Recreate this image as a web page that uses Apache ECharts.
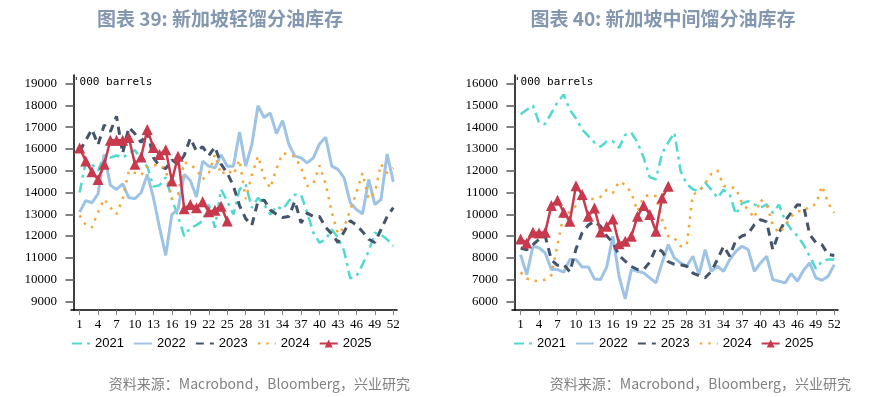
<!DOCTYPE html>
<html lang="zh">
<head>
<meta charset="UTF-8">
<title>新加坡馏分油库存</title>
<style>
  html, body { margin: 0; padding: 0; background: #fff; }
  #chart { width: 881px; height: 397px; }
</style>
</head>
<body>
<div id="chart"></div>
<script src="https://cdn.jsdelivr.net/npm/echarts@6/dist/echarts.min.js"></script>
<script>
// 周序号（1-52）与刻度
const weeks = Array.from({ length: 52 }, (_, i) => i + 1);
const weekTicks = [1, 4, 7, 10, 13, 16, 19, 22, 25, 28, 31, 34, 37, 40, 43, 46, 49, 52];
const yearNames = ['2021', '2022', '2023', '2024', '2025'];

// 图表 39：新加坡轻馏分油库存（'000 barrels）
const light2021 = [14000,15400,15300,15000,15700,15600,15700,15600,15800,15950,15500,15200,14270,14330,14700,13700,12900,12000,12380,12500,12690,13450,12380,14140,13600,12990,14140,14370,13300,13750,13450,12990,13370,13220,13600,13900,13900,13070,12150,11690,11840,12300,11920,11310,10050,10160,10700,11300,12150,12070,11840,11540];
const light2022 = [13100,13630,13530,13940,15750,14340,14140,14400,13760,13720,13990,14830,13760,12380,11110,12990,13220,14830,14550,13790,15440,15210,15130,15740,15210,15210,16780,15210,16200,17990,17450,17650,16710,17300,16230,15670,15590,15360,15590,16230,16540,15210,15060,14670,13530,13220,13020,14600,13450,13680,15770,14490];
const light2023 = [15900,16400,16900,16200,17100,16800,17500,15800,17000,16700,16300,16800,15600,15200,15100,15500,15300,15700,16500,15900,16100,15700,16100,15300,14900,14300,13400,12800,12500,13600,13650,13200,13000,12850,12900,13600,12600,13050,12900,12900,12400,12100,11700,12200,12700,12500,12200,11850,11700,12300,12900,13300];
const light2024 = [12950,12500,12400,13100,13700,13300,13000,13700,15000,14900,14800,15200,15250,15280,15050,13700,13900,15400,15280,15050,14600,14900,15740,14820,15050,14820,15500,13700,14800,15670,14700,14200,15100,15800,15750,15650,15150,14300,14400,15240,14400,13100,12100,12400,13200,14000,14900,13700,14000,15300,14900,15130];
const light2025 = [16050,15450,14950,14600,15300,16400,16400,16400,16530,15300,15630,16900,16070,15750,15970,14530,15670,13250,13450,13300,13570,13120,13190,13370,12690];

// 图表 40：新加坡中间馏分油库存（'000 barrels）
const mid2021 = [14600,14800,15000,14200,14150,14650,15150,15500,14800,14400,13900,13600,13300,13100,13350,13350,13050,13650,13750,13300,12600,11700,11600,12800,13300,13750,12000,11400,11150,11050,11450,11130,10750,11130,10900,10000,10500,10600,10450,10300,10450,10060,10440,9700,9300,9000,8600,8070,7500,7840,7920,7920];
const mid2022 = [8146,7228,8530,8453,8223,7457,7457,7335,7917,7917,7580,7580,7029,6998,7580,8988,7151,6110,7457,7380,7304,7074,6845,7764,8606,7993,7764,7610,8070,7228,8376,7380,7610,7380,7917,8300,8530,8376,7380,7764,8070,6998,6922,6845,7273,6922,7427,7764,7074,6967,7151,7687];
const mid2023 = [8450,8370,8600,8850,9000,7900,7650,7700,7350,8400,9150,9500,9680,9450,9000,8700,8100,7850,7600,7460,7460,7800,8450,8300,7820,7700,7680,7610,7300,7180,7080,7370,7920,8530,8070,8820,9000,9100,9520,9750,9650,8370,9150,9700,10080,10440,10400,9065,8700,8600,8150,8100];
const mid2024 = [7335,7050,6950,6920,7000,7200,8600,10000,10100,10400,10900,10700,10700,10800,11130,10980,11500,11360,10980,10140,10800,10900,10830,9750,8990,8910,8530,8570,10900,11050,11400,11850,12020,11300,11240,11210,10500,10210,9830,10670,10450,9500,9150,9450,9900,10140,10140,10370,10450,11300,10520,10060];
const mid2025 = [8866,8680,9172,9140,9172,10397,10642,10090,9677,11315,10903,9907,10290,9187,9448,9785,8650,8760,8988,9907,10397,9984,9218,10750,11285];

// 每年的线型
const lineStyles = {
    '2021': { color: '#4fd9cf', width: 2.5, type: [10, 5, 3, 5] },
    '2022': { color: '#9ec3e5', width: 3, type: 'solid' },
    '2023': { color: '#44546a', width: 3, type: [8, 6] },
    '2024': { color: '#f7a535', width: 2.5, type: [2.5, 6] },
    '2025': { color: '#c8394d', width: 2.5, type: 'solid' }
};

const toPairs = (arr) => arr.map((v, i) => [weeks[i], v]);

const makeSeries = (idx, lists) => yearNames.map((name, k) => {
    const ls = lineStyles[name];
    const isNow = name === '2025';
    return {
        name: name,
        type: 'line',
        xAxisIndex: idx,
        yAxisIndex: idx,
        data: toPairs(lists[k]),
        symbol: isNow ? 'triangle' : 'none',
        symbolSize: isNow ? 11 : 0,
        showSymbol: isNow,
        itemStyle: { color: ls.color },
        lineStyle: ls,
        animation: false,
        z: 2 + k
    };
});

const makeX = (idx) => ({
    type: 'value',
    gridIndex: idx,
    min: -0.4,
    max: 52.6,
    axisLine: { lineStyle: { color: '#000', width: 1.5 } },
    axisTick: { customValues: weekTicks, length: 5, lineStyle: { color: '#808080' } },
    axisLabel: { customValues: weekTicks, color: '#000', fontSize: 13, fontFamily: 'Liberation Serif', margin: 8 },
    splitLine: { show: false }
});

const makeY = (idx, lo, hi) => {
    const ticks = [];
    for (let v = lo; v <= hi; v += 1000) ticks.push(v);
    return {
        type: 'value',
        gridIndex: idx,
        min: lo - 400,
        max: hi + 400,
        axisLine: { show: true, lineStyle: { color: '#000', width: 1.5 } },
        axisTick: { show: true, customValues: ticks, length: 8, lineStyle: { color: '#808080', width: 2 } },
        axisLabel: {
            customValues: ticks, color: '#000', fontSize: 13, fontFamily: 'Liberation Serif', margin: 14,
            formatter: (v) => String(v)
        },
        splitLine: { show: false }
    };
};

// 图例：2021-2024 只显示线，2025 带三角
const legendData = yearNames.map(name => name === '2025'
    ? { name: name }
    : { name: name, itemStyle: { opacity: 0 } });

const legendBase = {
    data: legendData,
    itemWidth: 18,
    itemHeight: 10,
    itemGap: 9,
    top: 332,
    textStyle: { color: '#000', fontSize: 13, fontFamily: 'Liberation Sans Narrow, Liberation Sans' }
};

const titleStyle = { color: '#8497b0', fontSize: 19, fontWeight: 'bold', fontFamily: 'Noto Sans CJK SC' };
const srcStyle = { color: '#808080', fontSize: 14, fontWeight: 'normal', fontFamily: 'Noto Sans CJK SC' };
const srcText = '资料来源：Macrobond，Bloomberg，兴业研究';

const chart = echarts.init(document.getElementById('chart'));
chart.setOption({
    backgroundColor: '#fff',
    title: [
        { text: '图表 39: 新加坡轻馏分油库存', left: 215, top: 4, textAlign: 'center', textStyle: titleStyle },
        { text: '图表 40: 新加坡中间馏分油库存', left: 658, top: 4, textAlign: 'center', textStyle: titleStyle },
        { text: srcText, right: 466, top: 372, textStyle: srcStyle },
        { text: srcText, right: 25, top: 372, textStyle: srcStyle }
    ],
    legend: [
        Object.assign({ left: 66 }, legendBase),
        Object.assign({ left: 508 }, legendBase)
    ],
    grid: [
        { left: 71, top: 75, width: 326, height: 235 },
        { left: 512, top: 75, width: 326, height: 235 }
    ],
    xAxis: [makeX(0), makeX(1)],
    yAxis: [makeY(0, 9000, 19000), makeY(1, 6000, 16000)],
    graphic: [
        { type: 'text', left: 73, top: 77, style: { text: "'000 barrels", fontSize: 11, fontFamily: 'DejaVu Sans Mono', fill: '#000' } },
        { type: 'text', left: 514, top: 77, style: { text: "'000 barrels", fontSize: 11, fontFamily: 'DejaVu Sans Mono', fill: '#000' } }
    ],
    series: [
        ...makeSeries(0, [light2021, light2022, light2023, light2024, light2025]),
        ...makeSeries(1, [mid2021, mid2022, mid2023, mid2024, mid2025])
    ]
});
</script>
</body>
</html>
